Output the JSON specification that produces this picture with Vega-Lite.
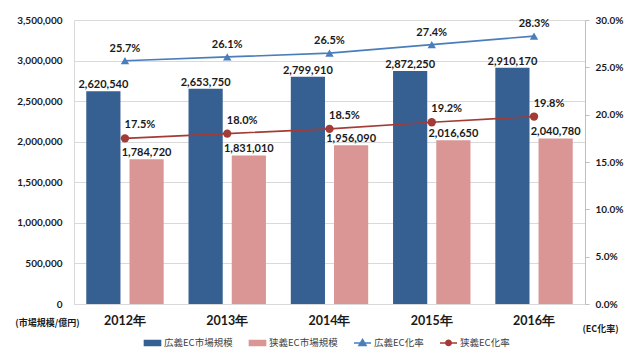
{
  "$schema": "https://vega.github.io/schema/vega-lite/v6.json",
  "width": 511,
  "height": 284,
  "autosize": {"type": "none"},
  "padding": {"left": 74, "top": 20, "right": 55, "bottom": 53},
  "background": "white",
  "config": {
    "view": {"stroke": null},
    "font": "Lato",
    "axis": {"labelFont": "Lato", "titleFont": "Noto Sans CJK JP"}
  },
  "data": {
    "values": [
      {"year": "2012年", "広義EC市場規模": 2620540, "狭義EC市場規模": 1784720, "広義EC化率": 0.257, "狭義EC化率": 0.175},
      {"year": "2013年", "広義EC市場規模": 2653750, "狭義EC市場規模": 1831010, "広義EC化率": 0.261, "狭義EC化率": 0.180},
      {"year": "2014年", "広義EC市場規模": 2799910, "狭義EC市場規模": 1956090, "広義EC化率": 0.265, "狭義EC化率": 0.185},
      {"year": "2015年", "広義EC市場規模": 2872250, "狭義EC市場規模": 2016650, "広義EC化率": 0.274, "狭義EC化率": 0.192},
      {"year": "2016年", "広義EC市場規模": 2910170, "狭義EC市場規模": 2040780, "広義EC化率": 0.283, "狭義EC化率": 0.198}
    ]
  },
  "encoding": {
    "x": {
      "field": "year", "type": "nominal", "sort": null,
      "scale": {"paddingInner": 0.243, "paddingOuter": 0.12},
      "axis": {
        "title": null, "labelAngle": 0, "domain": true, "domainColor": "#D9D9D9",
        "ticks": false, "labelPadding": 10, "labelFontSize": 12.5, "labelFontWeight": "bold",
        "labelColor": "#1a1a1a", "labelFont": "Lato"
      }
    },
    "color": {
      "field": "series", "type": "nominal",
      "scale": {
        "domain": ["広義EC市場規模", "狭義EC市場規模", "広義EC化率", "狭義EC化率"],
        "range": ["#365F92", "#D99694", "#4A7EBB", "#A33B36"]
      },
      "legend": {
        "title": null, "orient": "none", "direction": "horizontal",
        "legendX": 69, "legendY": 313,
        "labelFont": "Noto Sans CJK JP", "labelFontSize": 9.5, "labelColor": "#404040",
        "symbolSize": 289, "symbolStrokeWidth": 1.5, "columnPadding": 13, "labelOffset": 2,
        "encode": {
          "symbols": {
            "update": {
              "shape": {"signal": "datum.value == '広義EC化率' ? 'M-1,0H1M0,-0.42L0.42,0.3L-0.42,0.3Z' : (datum.value == '狭義EC化率' ? 'M-1,0H1M-0.32,0A0.32,0.32 0 1,0 0.32,0A0.32,0.32 0 1,0 -0.32,0Z' : 'M-0.95,-0.3H0.95V0.3H-0.95Z')"},
              "fill": {"signal": "scale('color', datum.value)"},
              "stroke": {"signal": "scale('color', datum.value)"},
              "fillOpacity": {"value": 1},
              "opacity": {"value": 1}
            }
          }
        }
      }
    }
  },
  "layer": [
    {
      "transform": [{"fold": ["広義EC市場規模", "狭義EC市場規模"], "as": ["series", "value"]}],
      "encoding": {
        "xOffset": {"field": "series", "type": "nominal", "sort": ["広義EC市場規模", "狭義EC市場規模"], "scale": {"paddingInner": 0.209, "paddingOuter": 0}},
        "y": {
          "field": "value", "type": "quantitative",
          "scale": {"domain": [0, 3500000], "nice": false},
          "axis": {
            "values": [0, 500000, 1000000, 1500000, 2000000, 2500000, 3000000, 3500000],
            "format": ",d", "grid": true, "gridColor": "#D9D9D9", "domainColor": "#D9D9D9",
            "ticks": false, "labelPadding": 12, "labelFontSize": 10, "labelFontWeight": "bold",
            "labelColor": "#1a1a1a",
            "title": "(市場規模/億円)", "titleAngle": 0, "titleX": -27, "titleY": 302,
            "titleAlign": "center", "titleBaseline": "middle", "titleFontSize": 9, "titleFontWeight": "bold", "titleColor": "#1a1a1a"
          }
        }
      },
      "layer": [
        {"mark": {"type": "bar"}},
        {
          "mark": {"type": "text", "baseline": "alphabetic", "dy": -3, "fontSize": 11, "fontWeight": "bold", "font": "Lato"},
          "encoding": {"text": {"field": "value", "type": "quantitative", "format": ",d"}, "color": {"value": "#1a1a1a"}}
        }
      ]
    },
    {
      "transform": [{"fold": ["広義EC化率", "狭義EC化率"], "as": ["series", "rate"]}],
      "encoding": {
        "y": {
          "field": "rate", "type": "quantitative",
          "scale": {"domain": [0, 0.3], "nice": false},
          "axis": {
            "orient": "right", "values": [0, 0.05, 0.1, 0.15, 0.2, 0.25, 0.3],
            "format": ".1%", "grid": false, "domainColor": "#BFBFBF", "tickColor": "#BFBFBF",
            "tickSize": 4, "labelPadding": 6, "labelFontSize": 10, "labelFontWeight": "bold",
            "labelColor": "#1a1a1a",
            "title": "(EC化率)", "titleAngle": 0, "titleX": 15, "titleY": 308,
            "titleAlign": "center", "titleBaseline": "middle", "titleFontSize": 9, "titleFontWeight": "bold", "titleColor": "#1a1a1a"
          }
        }
      },
      "layer": [
        {"mark": {"type": "line", "strokeWidth": 1.6}},
        {
          "mark": {"type": "point", "filled": true, "opacity": 1, "size": 70},
          "encoding": {
            "shape": {"field": "series", "type": "nominal", "scale": {"domain": ["広義EC化率", "狭義EC化率"], "range": ["triangle-up", "circle"]}, "legend": null}
          }
        },
        {
          "transform": [{"filter": "datum.series == '広義EC化率'"}],
          "mark": {"type": "text", "baseline": "alphabetic", "dy": -9, "fontSize": 11, "fontWeight": "bold", "font": "Lato"},
          "encoding": {"text": {"field": "rate", "type": "quantitative", "format": ".1%"}, "color": {"value": "#1a1a1a"}}
        },
        {
          "transform": [{"filter": "datum.series == '狭義EC化率'"}],
          "mark": {"type": "text", "baseline": "alphabetic", "dy": -10, "dx": 15, "fontSize": 11, "fontWeight": "bold", "font": "Lato"},
          "encoding": {"text": {"field": "rate", "type": "quantitative", "format": ".1%"}, "color": {"value": "#1a1a1a"}}
        }
      ]
    }
  ],
  "resolve": {"scale": {"y": "independent"}}
}
